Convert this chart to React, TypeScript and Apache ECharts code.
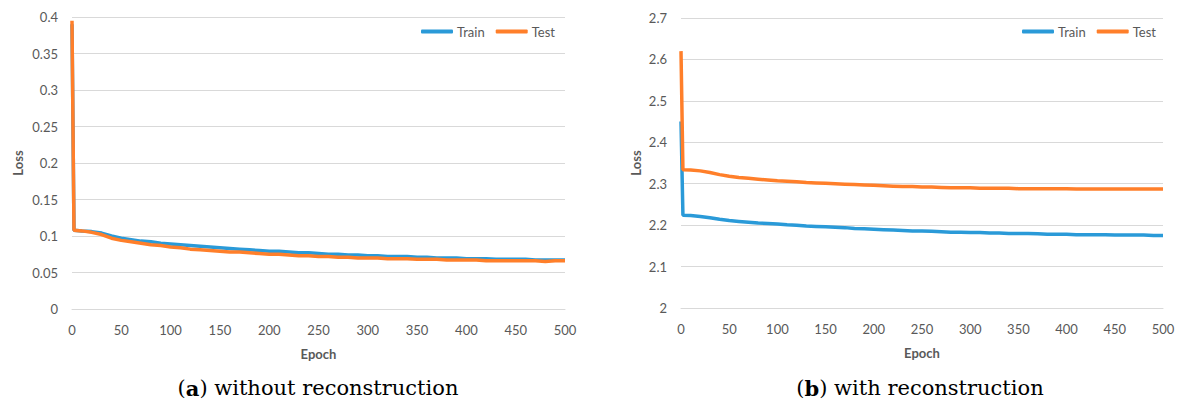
import React, { useEffect, useRef } from "react";
import * as echarts from "echarts";

const epochs = [0, 2, 10, 20, 30, 40, 50, 60, 70, 80, 90, 100, 110, 120, 130, 140, 150, 160, 170, 180, 190, 200, 210, 220, 230, 240, 250, 260, 270, 280, 290, 300, 310, 320, 330, 340, 350, 360, 370, 380, 390, 400, 410, 420, 430, 440, 450, 460, 470, 480, 490, 500];

const trainA = [0.39, 0.108, 0.107, 0.106, 0.104, 0.1, 0.097, 0.095, 0.093, 0.092, 0.09, 0.089, 0.088, 0.087, 0.086, 0.085, 0.084, 0.083, 0.082, 0.081, 0.08, 0.079, 0.079, 0.078, 0.077, 0.077, 0.076, 0.075, 0.075, 0.074, 0.074, 0.073, 0.073, 0.072, 0.072, 0.072, 0.071, 0.071, 0.07, 0.07, 0.07, 0.069, 0.069, 0.069, 0.068, 0.068, 0.068, 0.068, 0.067, 0.067, 0.067, 0.067];
const testA = [0.395, 0.108, 0.107, 0.105, 0.102, 0.097, 0.094, 0.092, 0.09, 0.088, 0.087, 0.085, 0.084, 0.082, 0.081, 0.08, 0.079, 0.078, 0.078, 0.077, 0.076, 0.075, 0.075, 0.074, 0.073, 0.073, 0.072, 0.072, 0.071, 0.071, 0.07, 0.07, 0.07, 0.069, 0.069, 0.069, 0.068, 0.068, 0.068, 0.067, 0.067, 0.067, 0.067, 0.066, 0.066, 0.066, 0.066, 0.066, 0.066, 0.065, 0.066, 0.066];

const trainB = [2.45, 2.224, 2.223, 2.221, 2.218, 2.214, 2.211, 2.209, 2.207, 2.205, 2.204, 2.203, 2.201, 2.2, 2.198, 2.197, 2.196, 2.195, 2.194, 2.192, 2.191, 2.19, 2.189, 2.188, 2.187, 2.186, 2.186, 2.185, 2.184, 2.183, 2.183, 2.182, 2.182, 2.181, 2.181, 2.18, 2.18, 2.18, 2.179, 2.178, 2.178, 2.178, 2.177, 2.177, 2.177, 2.177, 2.176, 2.176, 2.176, 2.176, 2.175, 2.175];
const testB = [2.62, 2.334, 2.333, 2.331, 2.327, 2.322, 2.318, 2.315, 2.313, 2.311, 2.309, 2.307, 2.306, 2.305, 2.303, 2.302, 2.301, 2.3, 2.299, 2.298, 2.297, 2.296, 2.295, 2.294, 2.293, 2.293, 2.292, 2.292, 2.291, 2.29, 2.29, 2.29, 2.289, 2.289, 2.289, 2.289, 2.288, 2.288, 2.288, 2.288, 2.288, 2.288, 2.287, 2.287, 2.287, 2.287, 2.287, 2.287, 2.287, 2.287, 2.287, 2.287];

const BLUE = "#2a9ad8";
const ORANGE = "#ff7f2a";
const TXT = "#595959";
const GRID = "#d9d9d9";
const FONT = "Lato";

const pairs = (ys: number[]) => epochs.map((e, i) => [e, ys[i]]);

export default function App() {
  const ref = useRef<HTMLDivElement>(null);
  useEffect(() => {
    document.body.style.margin = "0";
    const chart = echarts.init(ref.current!, null, { renderer: "svg" });
    const xAxisBase = (gridIndex: number) => ({
      type: "value",
      gridIndex,
      min: 0,
      max: 500,
      interval: 50,
      name: "Epoch",
      nameLocation: "middle",
      nameGap: 38,
      nameTextStyle: { fontFamily: FONT, fontSize: 13, fontWeight: "bold", color: TXT },
      axisLine: { show: true, lineStyle: { color: GRID } },
      axisTick: { show: false },
      splitLine: { show: false },
      axisLabel: { fontFamily: FONT, fontSize: 13, color: TXT, margin: 14 },
    });
    const yAxisBase = (gridIndex: number, min: number, max: number, interval: number, gap: number) => ({
      type: "value",
      gridIndex,
      min,
      max,
      interval,
      name: "Loss",
      nameLocation: "middle",
      nameGap: gap,
      nameRotate: 90,
      nameTextStyle: { fontFamily: FONT, fontSize: 13, fontWeight: "bold", color: TXT },
      axisLine: { show: false },
      axisTick: { show: false },
      splitLine: { show: true, lineStyle: { color: GRID, width: 1 } },
      axisLabel: { fontFamily: FONT, fontSize: 13, color: TXT, margin: 14 },
    });
    const legendBase = (left: number) => ({
      left,
      top: 20,
      itemWidth: 32,
      itemHeight: 4,
      itemGap: 11,
      icon: "roundRect",
      textStyle: { fontFamily: FONT, fontSize: 13, color: TXT, padding: [0, 0, 0, -1] },
      data: [
        { name: "Train", itemStyle: { color: BLUE } },
        { name: "Test", itemStyle: { color: ORANGE } },
      ],
    });
    const line = (name: string, color: string, data: number[], idx: number) => ({
      type: "line",
      name,
      xAxisIndex: idx,
      yAxisIndex: idx,
      data: pairs(data),
      showSymbol: false,
      symbol: "none",
      lineStyle: { color, width: 3.5 },
      itemStyle: { color },
    });
    const caption = (x: number, letter: string, rest: string) => ({
      type: "text",
      x,
      y: 388,
      style: {
        text: "({b|" + letter + "}) " + rest,
        x: 0,
        y: 0,
        align: "center",
        verticalAlign: "middle",
        fontFamily: "DejaVu Serif",
        fontSize: 21,
        fill: "#000",
        rich: { b: { fontFamily: "DejaVu Serif", fontSize: 21, fontWeight: "bold", fill: "#000" } },
      } as any,
    });
    chart.setOption({
      animation: false,
      backgroundColor: "#ffffff",
      grid: [
        { left: 72, top: 17, width: 493, height: 292 },
        { left: 681, top: 18, width: 482, height: 290 },
      ],
      xAxis: [xAxisBase(0), xAxisBase(1)],
      yAxis: [yAxisBase(0, 0, 0.4, 0.05, 48), yAxisBase(1, 2, 2.7, 0.1, 39)],
      legend: [legendBase(416), legendBase(1017)],
      series: [
        line("Train", BLUE, trainA, 0),
        line("Test", ORANGE, testA, 0),
        line("Train", BLUE, trainB, 1),
        line("Test", ORANGE, testB, 1),
      ],
      graphic: [
        caption(318, "a", "without reconstruction"),
        caption(920, "b", "with reconstruction"),
      ],
    });
    return () => chart.dispose();
  }, []);
  return <div ref={ref} style={{ width: 1179, height: 403 }} />;
}
